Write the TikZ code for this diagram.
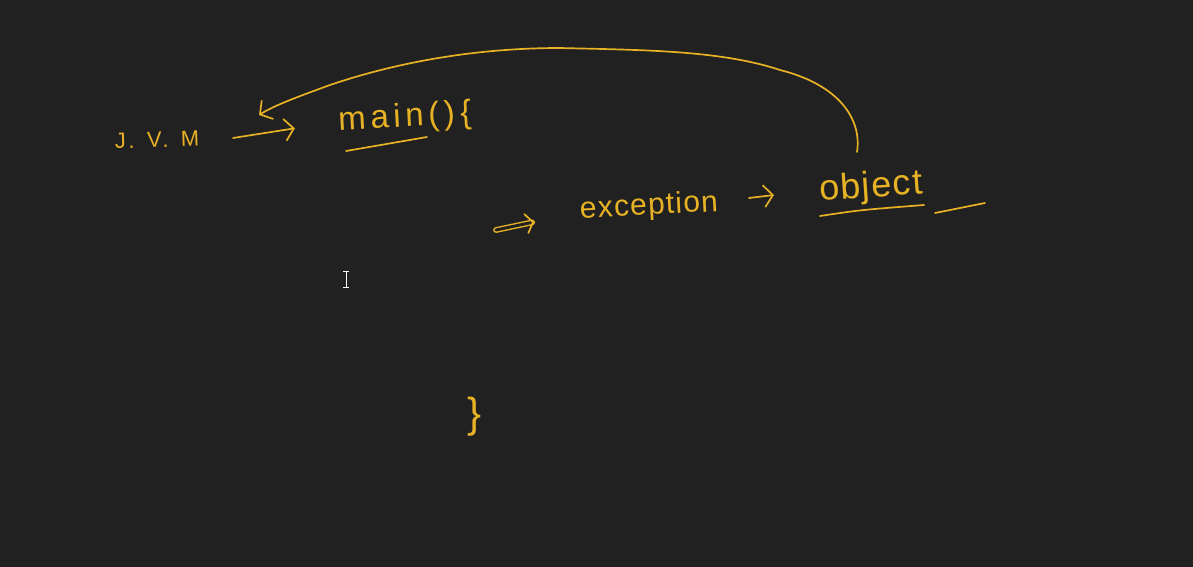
\documentclass[tikz,border=0pt]{standalone}
\usepackage{fontspec}
\setmainfont{Liberation Sans}
\usetikzlibrary{arrows.meta}
\definecolor{bg}{HTML}{212121}
\definecolor{ink}{HTML}{E8B225}
\tikzset{
  ink/.style={draw=ink, line width=1.7pt, line cap=round, line join=round},
  hand/.style={text=ink, inner sep=0pt},
  barb/.style={-{Straight Barb[length=9pt,width=22pt,line width=1.7pt]}},
}
\begin{document}
\begin{tikzpicture}[x=1pt,y=-1pt]
\fill[bg] (0,0) rectangle (1193,567);
\useasboundingbox (0,0) rectangle (1193,567);
% text nodes
\node[hand, font=\fontsize{22}{24}\selectfont\addfontfeatures{LetterSpace=12}, rotate=2] (jvm) at (157,140) {J.\ \,V.\ \,M};
\node[hand, font=\fontsize{33}{35}\selectfont\addfontfeatures{LetterSpace=14}, rotate=3] (main) at (405,118) {main()\,\{};
\node[hand, font=\fontsize{30}{32}\selectfont\addfontfeatures{LetterSpace=4}, rotate=3] (exc) at (649,207) {exception};
\node[hand, font=\fontsize{36}{38}\selectfont\addfontfeatures{LetterSpace=4}, rotate=4] (obj) at (871,188) {object};
\node[hand, font=\fontsize{42}{44}\selectfont] (brace) at (475,417) {\}};
% connectors
\coordinate (jvmfrom) at (233,138);
\draw[ink, barb, shorten >=44pt] (jvmfrom) -- (main.west);
\coordinate (back) at (259,115);
\coordinate (objtop) at (857,152);
\draw[ink, barb] (objtop) .. controls (862,120) and (840,85) .. (780,70)
  .. controls (720,50) and (640,50) .. (560,48)
  .. controls (460,48) and (380,68) .. (330,85)
  .. controls (300,96) and (275,105) .. (back);
\coordinate (dstart) at (496,230);
\draw[ink, double=bg, double distance=3pt, line width=1.4pt, -{Straight Barb[length=7pt,width=20pt,line width=1.7pt]}] (dstart) -- (534,222);
\coordinate (eo1) at (749,198);
\coordinate (eo2) at (774,195);
\draw[ink, barb] (eo1) -- (eo2);
% underlines
\draw[ink] (346,151) -- (427,137);
\draw[ink] (820,216) .. controls (860,210) .. (924,205);
\draw[ink] (935,213) -- (985,203);
% text cursor
\draw[white, line width=0.8pt] (343,271) -- (349,271) (346,271) -- (346,287) (343,287) -- (349,287);
\end{tikzpicture}
\end{document}
